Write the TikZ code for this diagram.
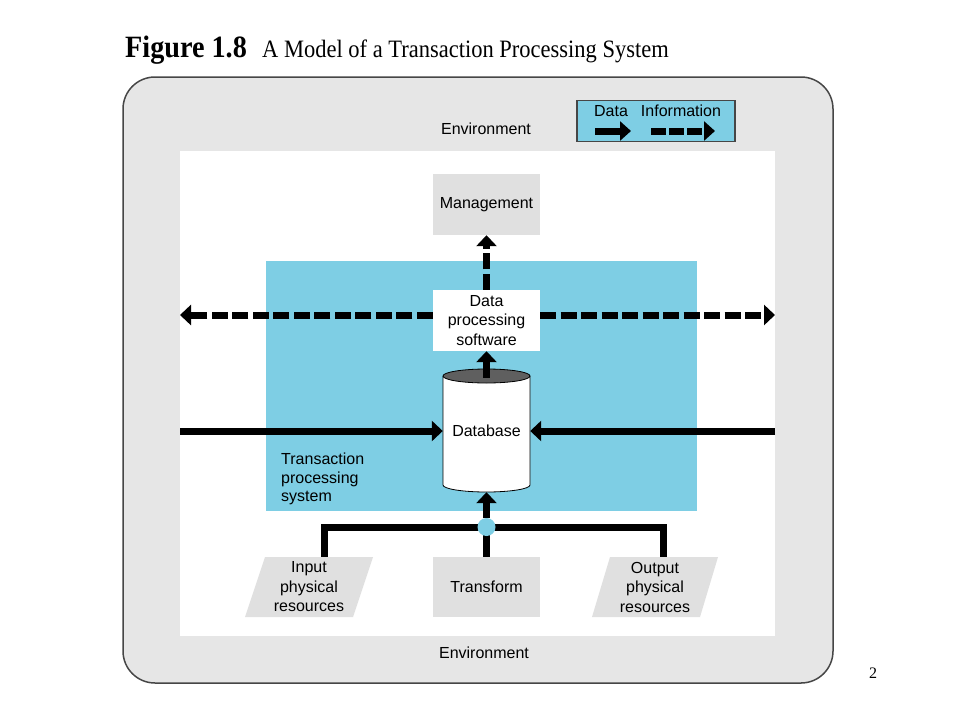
\documentclass[tikz,border=0pt]{standalone}
\usepackage{fontspec}
\usepackage{graphicx}
\setmainfont{Liberation Serif}
\setsansfont{Liberation Sans}
\usetikzlibrary{arrows.meta}
\definecolor{tpsblue}{RGB}{126,206,228}
\definecolor{envgray}{RGB}{230,230,230}
\definecolor{boxgray}{RGB}{224,224,224}
\definecolor{capgray}{RGB}{95,95,95}
\definecolor{rimgray}{RGB}{70,70,70}
\begin{document}
\begin{tikzpicture}[x=1pt,y=-1pt,
  lbl/.style={font=\sffamily\fontsize{16}{19.5}\selectfont, align=center, inner sep=0pt},
  procbox/.style={lbl, minimum width=107pt, minimum height=61pt},
  dataflow/.style={line width=7pt, -{Triangle[length=11pt,width=20pt]}},
  infoflow/.style={dataflow, dash pattern=on 16pt off 4.5pt},
  wire/.style={line width=7pt}]
\fill[white] (0,0) rectangle (960,720);
\useasboundingbox (0,0) rectangle (960,720);

% title
\node[anchor=base west, inner sep=0pt, font=\bfseries\fontsize{31}{34}\selectfont] (fig) at (125,57) {\scalebox{0.91}[1]{Figure 1.8}};
\node[anchor=base west, inner sep=0pt, font=\fontsize{25}{28}\selectfont] (ttl) at (262,57) {\scalebox{0.9}[1]{A Model of a Transaction Processing System}};

% environment frame
\draw[rimgray, line width=1.5pt, fill=envgray, rounded corners=32pt] (123,77) rectangle (833,683);
\fill[white] (180,151) rectangle (775,636);
\fill[tpsblue] (266,261) rectangle (697,511);

% legend
\node[draw=rimgray, line width=1.2pt, fill=tpsblue, minimum width=158pt, minimum height=41pt, inner sep=0pt] (legend) at (656,121) {};
\node[lbl] (ldata) at (611,111) {Data};
\node[lbl] (linfo) at (681,111) {Information};
\coordinate (d1) at (595,131);
\coordinate (d2) at (631,131);
\draw[line width=7pt, -{Triangle[length=11pt,width=19pt]}] (d1) -- (d2);
\coordinate (i1) at (651,131);
\coordinate (i2) at (715,131);
\draw[line width=7pt, -{Triangle[length=11pt,width=19pt]}, dash pattern=on 15pt off 3pt] (i1) -- (i2);

% environment labels
\node[lbl] (envtop) at (486,129) {Environment};
\node[lbl] (envbot) at (484,653) {Environment};

% management and data processing software
\node[procbox, fill=boxgray] (mgmt) at (486.5,204.5) {Management};
\node[procbox, fill=white] (dps) at (486.5,320.5) {Data\\processing\\software};

% database cylinder
\draw[black, line width=0.8pt, fill=white] (443,376) -- (443,485) arc[start angle=180, end angle=0, x radius=43.5, y radius=7] -- (530,376);
\draw[black, line width=0.8pt, fill=capgray] (486.5,376) ellipse [x radius=43.5, y radius=7];
\node[lbl, minimum width=87pt, minimum height=122pt] (db) at (486.5,431) {Database};

\node[lbl, align=left, anchor=west] (tpslabel) at (281,479) {Transaction\\[-1pt]processing\\[-1pt]system};

% information flows
\coordinate (leftend) at (180,315);
\coordinate (rightend) at (775,315);
\draw[infoflow] (dps.north) -- (mgmt.south);
\draw[infoflow] (dps.west |- leftend) -- (leftend);
\draw[infoflow] (dps.east |- rightend) -- (rightend);

% data flows
\coordinate (lin) at (180,431);
\coordinate (rin) at (775,431);
\draw[dataflow] ([yshift=-8pt]db.north) -- (dps.south);
\draw[dataflow] (lin) -- (db.west);
\draw[dataflow] (rin) -- (db.east);

% physical resources
\fill[boxgray] (245,617) -- (353,617) -- (373,557) -- (265,557) -- cycle;
\node[procbox, minimum height=60pt] (in) at (309,587) {Input\\physical\\resources};
\node[procbox, minimum height=60pt, fill=boxgray] (tr) at (486.5,587) {Transform};
\fill[boxgray] (592,617) -- (700,617) -- (718,557) -- (610,557) -- cycle;
\node[procbox, minimum height=60pt] (out) at (655,587) {Output\\physical\\resources};

\coordinate (jc) at (486.5,527);
\draw[wire] ([xshift=15pt]in.north) |- (jc) -| ([xshift=8pt]out.north);
\draw[wire] (tr.north) -- (jc);
\node[circle, fill=tpsblue, minimum size=18pt, inner sep=0pt] (jn) at (jc) {};
\draw[dataflow] (jn.north) -- (db.south);

% page number
\node[font=\fontsize{16}{18}\selectfont, inner sep=0pt] (pg) at (873,673) {2};
\end{tikzpicture}
\end{document}
